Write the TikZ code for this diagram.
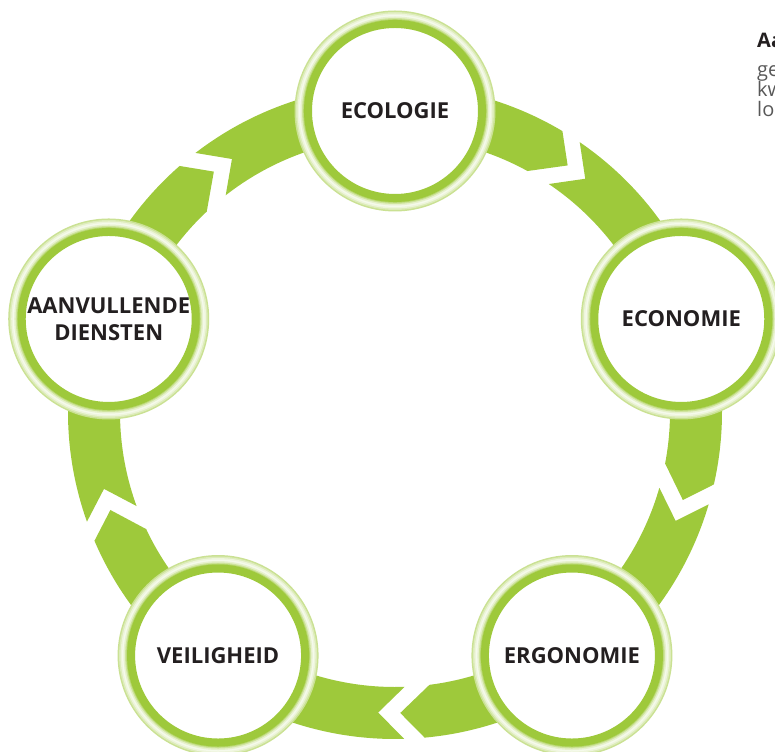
\documentclass[tikz,border=0pt]{standalone}
\usepackage{fontspec}
\setmainfont{Open Sans}
\usetikzlibrary{shapes}
\definecolor{leafgreen}{RGB}{158,201,59}
\definecolor{labelblack}{RGB}{35,31,32}
\definecolor{notegray}{RGB}{88,88,88}

\begin{document}
\begin{tikzpicture}[x=1pt, y=1pt,
    band/.style={fill=leafgreen},
    stage/.style={circle, fill=white, draw=leafgreen, line width=8pt, minimum size=174pt,
        inner sep=0pt, align=center, text=labelblack, font=\fontsize{22}{27}\selectfont\bfseries}]
        \pgfmathsetmacro{\rring}{301}
        \pgfmathsetmacro{\rout}{327}
        \pgfmathsetmacro{\rin}{275}
        \useasboundingbox (-395,-339) rectangle (380,412);

        % arrow band, one piece per stage
        \foreach \k in {0,...,4}{
            \pgfmathsetmacro{\bnext}{55-72*\k}
            \pgfmathsetmacro{\bprev}{\bnext+72}
            \fill[band] ({\bprev+0.6}:\rout) arc[start angle=\bprev+0.6, end angle=\bnext+4.2, radius=\rout]
                -- ({\bnext}:\rring) -- ({\bnext+6.2}:\rin)
                arc[start angle=\bnext+6.2, end angle=\bprev+1, radius=\rin]
                -- ({\bprev-4.2}:\rring) -- cycle;
        }

        % light halo round each stage
        \foreach \a in {90,18,-54,-126,-198}{
            \foreach \r/\c in {100.5/55, 99/35, 97.5/18, 96/10, 94.5/25, 93/50, 91.8/75}
                \fill[leafgreen!\c!white] (\a:\rring) circle[radius=\r];
        }

        \node[stage] (ecologie) at (90:\rring) {ECOLOGIE};
        \node[stage] (economie) at (18:\rring) {ECONOMIE};
        \node[stage] (ergonomie) at (-54:\rring) {ERGONOMIE};
        \node[stage] (veiligheid) at (-126:\rring) {VEILIGHEID};
        \node[stage] (diensten) at (162:\rring) {AANVULLENDE\\DIENSTEN};

        \node[anchor=north west, inner sep=0pt, align=left, text=notegray,
            font=\fontsize{20}{20}\selectfont] (note) at (362,379)
            {\textcolor{labelblack}{\textbf{Aa}}\\[9pt]ge\\kw\\lo};
\end{tikzpicture}
\end{document}
